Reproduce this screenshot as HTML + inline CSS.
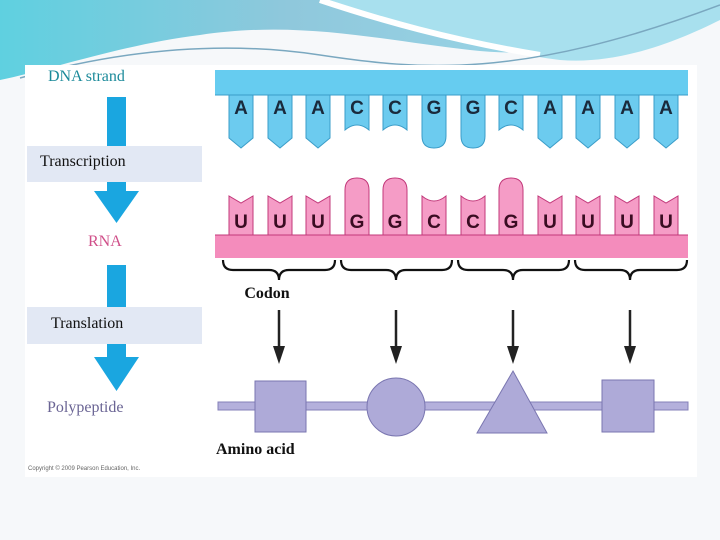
<!DOCTYPE html>
<html><head><meta charset="utf-8"><style>
html,body{margin:0;padding:0;width:720px;height:540px;overflow:hidden;background:#fff}
svg{display:block}
text{font-family:"Liberation Serif",serif}
g.b text{font-family:"Liberation Sans",sans-serif;font-weight:bold;font-size:19px;text-anchor:middle}
.d{fill:#6ccbef;stroke:#3a9cc8;stroke-width:1}
.r{fill:#f59cc6;stroke:#c2387a;stroke-width:1}
</style></head><body>
<svg width="720" height="540" viewBox="0 0 720 540" xmlns="http://www.w3.org/2000/svg">
<defs>
<linearGradient id="hg" x1="0" y1="0" x2="1" y2="0">
<stop offset="0" stop-color="#5fd0e0"/><stop offset="0.4" stop-color="#8fc8dc"/><stop offset="1" stop-color="#9fdcec"/></linearGradient>
</defs>
<rect width="720" height="540" fill="#f6f8fa"/>
<path d="M0,0 H720 V10 C650,40 560,60 470,50 C380,40 300,20 200,35 C120,45 50,70 0,80 Z" fill="url(#hg)"/>
<path d="M330,0 C400,25 480,50 560,60 C620,65 680,40 720,20 V0 Z" fill="#a8e0ee"/>
<path d="M320,0 C380,20 450,40 540,55" stroke="#fff" stroke-width="6" fill="none"/>
<path d="M20,78 C120,50 220,40 320,55 C420,70 520,80 720,5" stroke="#7aa8c0" stroke-width="1.5" fill="none"/>
<rect x="25" y="65" width="672" height="412" fill="#fff"/>
<text x="48" y="81" font-size="16" fill="#1b8a9a">DNA strand</text>
<rect x="107" y="97" width="19" height="50" fill="#1aa6e0"/>
<rect x="27" y="146" width="175" height="36" fill="#e2e8f4"/>
<text x="40" y="166" font-size="16" fill="#111">Transcription</text>
<rect x="107" y="182" width="19" height="10" fill="#1aa6e0"/>
<path d="M94,191 H139 L116.5,223 Z" fill="#1aa6e0"/>
<text x="88" y="246" font-size="16" fill="#d0508a">RNA</text>
<rect x="107" y="265" width="19" height="44" fill="#1aa6e0"/>
<rect x="27" y="307" width="175" height="37" fill="#e2e8f4"/>
<text x="51" y="328" font-size="16" fill="#111">Translation</text>
<rect x="107" y="344" width="19" height="14" fill="#1aa6e0"/>
<path d="M94,357 H139 L116.5,391 Z" fill="#1aa6e0"/>
<text x="47" y="412" font-size="16" fill="#6a6494">Polypeptide</text>
<text x="28" y="470" font-size="6" fill="#666" style="font-family:'Liberation Sans',sans-serif">Copyright © 2009 Pearson Education, Inc.</text>
<rect x="215" y="70" width="473" height="25" fill="#66ccf0"/>
<line x1="215" y1="95" x2="688" y2="95" stroke="#3a9cc8"/>
<g class="d">
<path d="M229,95V138L241,148L253,138V95Z"/>
<path d="M268,95V138L280,148L292,138V95Z"/>
<path d="M306,95V138L318,148L330,138V95Z"/>
<path d="M345,95V130Q357,120 369,130V95Z"/>
<path d="M383,95V130Q395,120 407,130V95Z"/>
<path d="M422,95V136Q422,148 434,148Q446,148 446,136V95Z"/>
<path d="M461,95V136Q461,148 473,148Q485,148 485,136V95Z"/>
<path d="M499,95V130Q511,120 523,130V95Z"/>
<path d="M538,95V138L550,148L562,138V95Z"/>
<path d="M576,95V138L588,148L600,138V95Z"/>
<path d="M615,95V138L627,148L639,138V95Z"/>
<path d="M654,95V138L666,148L678,138V95Z"/>
</g>
<g class="b" fill="#1a2a3c">
<text x="241" y="114">A</text><text x="280" y="114">A</text><text x="318" y="114">A</text><text x="357" y="114">C</text><text x="395" y="114">C</text><text x="434" y="114">G</text><text x="473" y="114">G</text><text x="511" y="114">C</text><text x="550" y="114">A</text><text x="588" y="114">A</text><text x="627" y="114">A</text><text x="666" y="114">A</text>
</g>
<g class="r">
<path d="M229,235V196L241,203L253,196V235Z"/>
<path d="M268,235V196L280,203L292,196V235Z"/>
<path d="M306,235V196L318,203L330,196V235Z"/>
<path d="M345,235V190Q345,178 357,178Q369,178 369,190V235Z"/>
<path d="M383,235V190Q383,178 395,178Q407,178 407,190V235Z"/>
<path d="M422,235V196Q434,206 446,196V235Z"/>
<path d="M461,235V196Q473,206 485,196V235Z"/>
<path d="M499,235V190Q499,178 511,178Q523,178 523,190V235Z"/>
<path d="M538,235V196L550,203L562,196V235Z"/>
<path d="M576,235V196L588,203L600,196V235Z"/>
<path d="M615,235V196L627,203L639,196V235Z"/>
<path d="M654,235V196L666,203L678,196V235Z"/>
</g>
<rect x="215" y="235" width="473" height="23" fill="#f48cbc"/>
<line x1="215" y1="235" x2="688" y2="235" stroke="#c2387a"/>
<g class="b" fill="#3a0c22">
<text x="241" y="228">U</text><text x="280" y="228">U</text><text x="318" y="228">U</text><text x="357" y="228">G</text><text x="395" y="228">G</text><text x="434" y="228">C</text><text x="473" y="228">C</text><text x="511" y="228">G</text><text x="550" y="228">U</text><text x="588" y="228">U</text><text x="627" y="228">U</text><text x="666" y="228">U</text>
</g>
<g stroke="#111" stroke-width="2.2" fill="none">
<path d="M223,260Q223,270 233,270H269Q279,270 279,280Q279,270 289,270H325Q335,270 335,260"/>
<path d="M341,260Q341,270 351,270H386Q396,270 396,280Q396,270 406,270H442Q452,270 452,260"/>
<path d="M458,260Q458,270 468,270H503Q513,270 513,280Q513,270 523,270H559Q569,270 569,260"/>
<path d="M575,260Q575,270 585,270H620Q630,270 630,280Q630,270 640,270H677Q687,270 687,260"/>
</g>
<text x="267" y="298" font-size="16" font-weight="bold" fill="#111" text-anchor="middle">Codon</text>
<g stroke="#222" stroke-width="2.5">
<line x1="279" y1="310" x2="279" y2="350"/><line x1="396" y1="310" x2="396" y2="350"/><line x1="513" y1="310" x2="513" y2="350"/><line x1="630" y1="310" x2="630" y2="350"/>
</g>
<g fill="#222">
<path d="M273,346H285L279,364Z"/><path d="M390,346H402L396,364Z"/><path d="M507,346H519L513,364Z"/><path d="M624,346H636L630,364Z"/>
</g>
<rect x="218" y="402" width="470" height="8" fill="#b4b0dc" stroke="#8480b8" stroke-width="1"/>
<g fill="#aeaad8" stroke="#7a76b0" stroke-width="1">
<rect x="255" y="381" width="51" height="51"/>
<circle cx="396" cy="407" r="29"/>
<path d="M513,371L547,433H477Z"/>
<rect x="602" y="380" width="52" height="52"/>
</g>
<text x="216" y="454" font-size="16" font-weight="bold" fill="#111">Amino acid</text>
</svg>
</body></html>
